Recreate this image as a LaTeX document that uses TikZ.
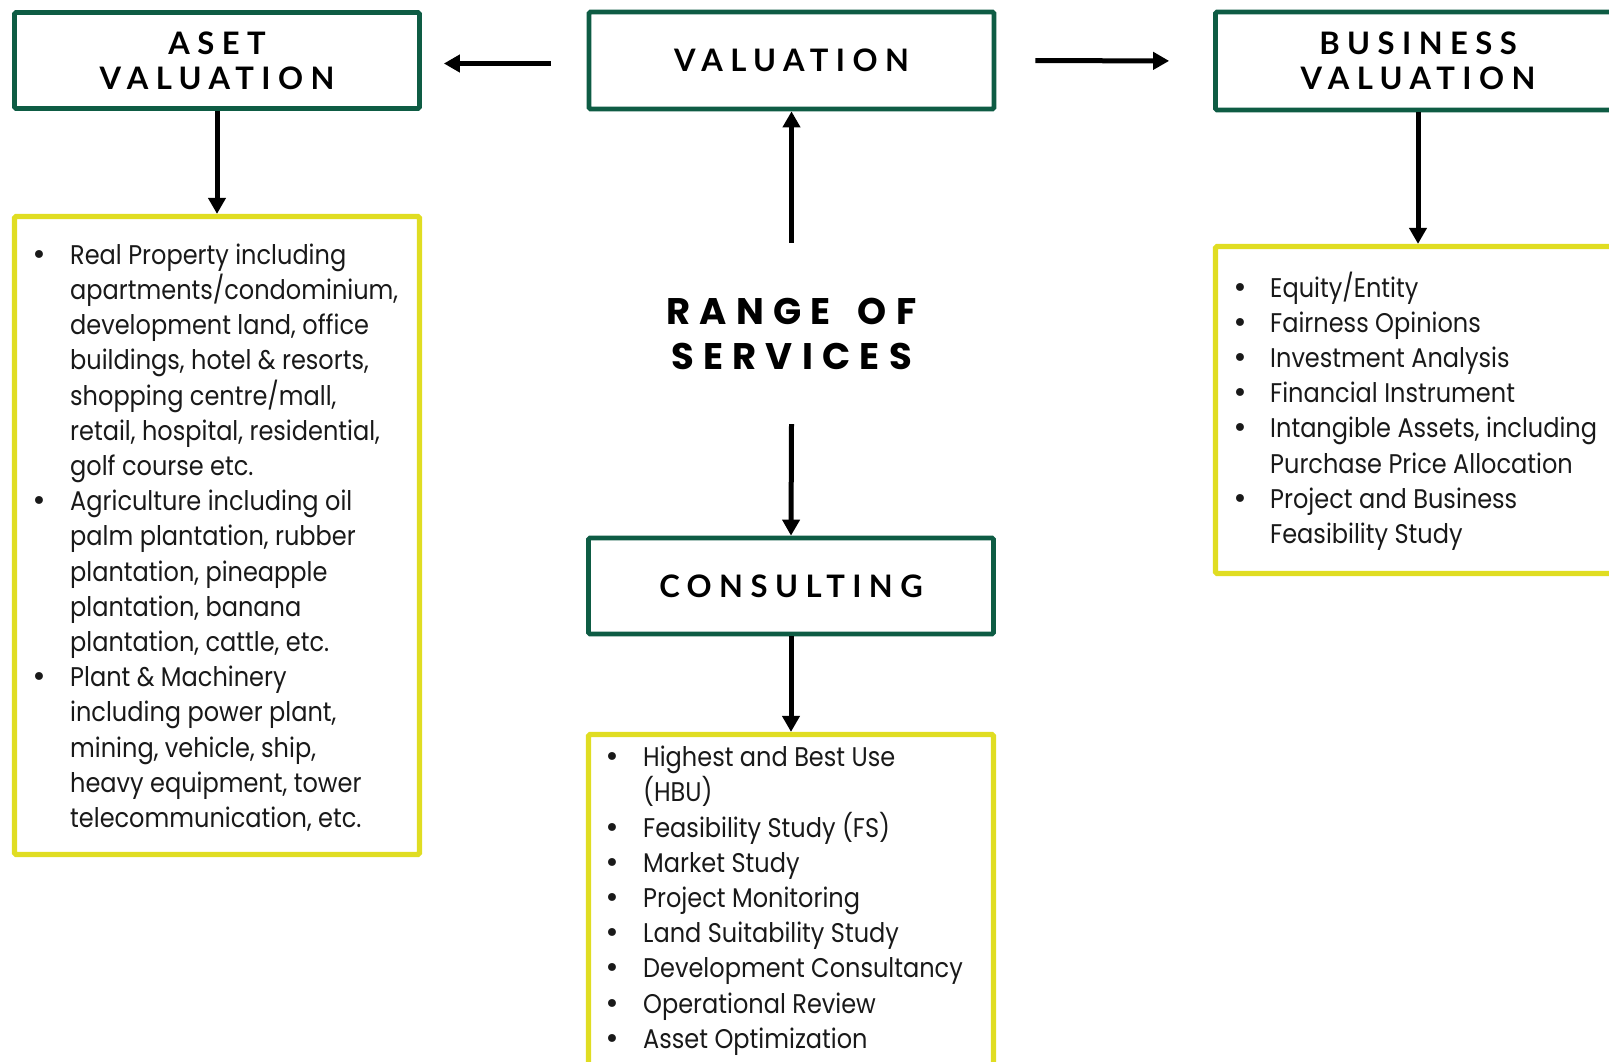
\documentclass[tikz,border=0pt]{standalone}
\usepackage{fontspec}
\setmainfont{Poppins}
\newfontfamily\headfont[LetterSpace=24]{Lato}
\newfontfamily\rangefont[LetterSpace=25]{Poppins}
\newfontfamily\listfont[FakeStretch=0.89]{Poppins}
\newfontfamily\bulfont{DejaVu Sans}
\usetikzlibrary{arrows.meta}
\definecolor{boxgreen}{RGB}{14,92,68}
\definecolor{boxyellow}{RGB}{224,221,34}
\definecolor{txt}{RGB}{25,25,25}
\newlength{\bulw}
\newcommand{\bi}{\makebox[\bulw][l]{\bulfont •}}
\newcommand{\ci}{\hspace*{\bulw}}
\tikzset{
  gbox/.style={draw=boxgreen, line width=4.7pt, rounded corners=1.5pt, fill=white,
    minimum width=405pt, inner sep=0pt, align=center,
    font=\headfont\bfseries\fontsize{31}{35}\selectfont},
  ybox/.style={draw=boxyellow, line width=5.2pt, rounded corners=1.5pt,
    minimum width=405pt, inner sep=0pt},
  listtext/.style={anchor=north west, inner sep=0pt, align=left, text=txt,
    font=\listfont\fontsize{27}{35.2}\selectfont},
  arr/.style={line width=5pt, -{Triangle[width=17pt,length=16pt]}},
}
\begin{document}
\begin{tikzpicture}[x=1pt,y=-1pt]
\useasboundingbox (0,0) rectangle (1609,1061);
% green heading boxes
\node[gbox, minimum height=96pt] (aset) at (217,60.5) {ASET\\VALUATION};
\node[gbox, minimum height=97pt] (val) at (791.5,60.5) {VALUATION};
\node[gbox, minimum height=98pt] (bus) at (1418,61) {BUSINESS\\VALUATION};
\node[gbox, minimum height=96pt] (cons) at (791,586) {CONSULTING};
% centre title
\node[inner sep=0pt, minimum height=181pt, align=center,
  font=\rangefont\bfseries\fontsize{37}{45}\selectfont] (range) at (791.5,333.5) {RANGE\hspace{10pt} OF\\SERVICES};
% yellow list boxes
\node[ybox, minimum height=638pt] (alist) at (217,535.5) {};
\node[ybox, minimum height=327pt] (blist) at (1418,410) {};
\node[ybox, minimum height=338pt] (clist) at (791,903.5) {};
% list texts
\setlength{\bulw}{39pt}
\node[listtext] (atext) at (31,240) {\rule{0pt}{24pt}\bi Real Property including\\
\ci apartments/condominium,\\
\ci development land, office\\
\ci buildings, hotel \& resorts,\\
\ci shopping centre/mall,\\
\ci retail, hospital, residential,\\
\ci golf course etc.\\
\bi Agriculture including oil\\
\ci palm plantation, rubber\\
\ci plantation, pineapple\\
\ci plantation, banana\\
\ci plantation, cattle, etc.\\
\bi Plant \& Machinery\\
\ci including power plant,\\
\ci mining, vehicle, ship,\\
\ci heavy equipment, tower\\
\ci telecommunication, etc.};
\setlength{\bulw}{38pt}
\node[listtext] (btext) at (1232,271.5) {\rule{0pt}{24pt}\bi Equity/Entity\\
\bi Fairness Opinions\\
\bi Investment Analysis\\
\bi Financial Instrument\\
\bi Intangible Assets, including\\
\ci Purchase Price Allocation\\
\bi Project and Business\\
\ci Feasibility Study};
\setlength{\bulw}{39pt}
\node[listtext] (ctext) at (604,742.5) {\rule{0pt}{24pt}\bi Highest and Best Use\\
\ci (HBU)\\
\bi Feasibility Study (FS)\\
\bi Market Study\\
\bi Project Monitoring\\
\bi Land Suitability Study\\
\bi Development Consultancy\\
\bi Operational Review\\
\bi Asset Optimization};
% connectors
\draw[arr, shorten <=36pt, shorten >=22pt] ([yshift=-3pt]val.west) -- ([yshift=-3pt]aset.east);
\draw[arr, shorten <=39pt, shorten >=44pt] (val.east) -- (bus.west);
\draw[arr] (aset.south) -- (alist.north);
\draw[arr] (bus.south) -- (blist.north);
\draw[arr] (range.north) -- (val.south);
\draw[arr] (range.south) -- (cons.north);
\draw[arr] (cons.south) -- (clist.north);
\end{tikzpicture}
\end{document}
